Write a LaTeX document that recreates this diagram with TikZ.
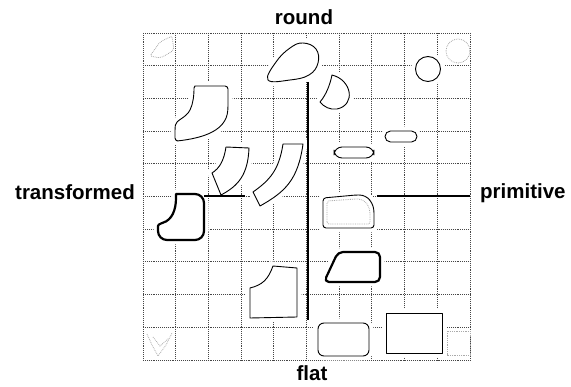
\documentclass[tikz,border=0pt]{standalone}
\usepackage{fontspec}
\setmainfont{Liberation Sans}
\definecolor{gridgray}{RGB}{70, 70, 70}
\definecolor{faintgray}{RGB}{170, 170, 170}
\usetikzlibrary{calc}

\begin{document}
\begin{tikzpicture}[x=1pt, y=-1pt,
  gridline/.style={draw=gridgray, densely dotted, line width=0.9pt},
  form/.style={draw, fill=white, line width=0.9pt, line join=round, preaction={draw=white, line width=9pt}},
  boldform/.style={form, line width=2.2pt},
  faint/.style={draw=faintgray, densely dotted, line width=0.8pt},
  axis/.style={draw, line width=1.4pt},
  lbl/.style={font=\fontsize{20.5}{24}\selectfont\bfseries, inner sep=0pt}
]
  \useasboundingbox (0,0) rectangle (571,387);

  \foreach \i in {0,...,10} {
    \draw[gridline] ({143+32.7*\i},33) -- ({143+32.7*\i},360);
    \draw[gridline] (143,{33+32.7*\i}) -- (470,{33+32.7*\i});
  }

  \draw[faint, rounded corners=2pt] (150,56) -- (160,42) -- (172,36) -- (174,50) -- (166,55) -- (160,58) -- cycle;
  \draw[faint] (458,51) circle (12);
  \draw[faint] (147,334) -- (152,345) -- (158,356) -- (166,345) -- (172,333) (153,337) -- (160,346) -- (168,339);
  \draw[faint] (447,331) rectangle (470,355);

  \draw[form] plot[smooth cycle, tension=0.7] coordinates {(268,80) (276,62) (290,48) (303,43) (316,49) (318,63) (309,75) (290,80)};
  \draw[form] (332,75) .. controls (352,80) and (356,105) .. (337,109) .. controls (330,110) and (324,107) .. (320,102) .. controls (326,95) and (330,85) .. cycle;
  \draw[form] (428,69) circle (12.5);

  \draw[form, rounded corners=3pt] (195,86) -- (228,86) -- (228,108) [sharp corners] .. controls (226,130) and (205,138) .. (177,141) [rounded corners=3pt] -- (175,141) -- (175,128) [sharp corners] .. controls (176,120) and (186,118) .. (190,110) .. controls (193,104) and (194,96) .. (194,88) -- cycle;

  \draw[form, rounded corners=8pt] (334,147) rectangle (374,158);
  \draw[form, rounded corners=5.5pt] (385,131) rectangle (417,142);

  \draw[form] (226,147) -- (249,148) .. controls (248,175) and (238,186) .. (221,195) -- (212,173) .. controls (220,168) and (224,160) .. cycle;
  \draw[form] (283,144) -- (303,144) .. controls (298,180) and (285,192) .. (260,206) -- (253,192) .. controls (270,180) and (279,170) .. cycle;

  \draw[boldform, rounded corners=9pt] (176,194) -- (204,194) -- (204,240) -- (158,240) [rounded corners=1pt] -- (158,225) -- (162,223) [sharp corners] .. controls (172,220) and (176,210) .. (176,198) -- cycle;

  \draw[form] (273,266) -- (297,268) -- (297,317) -- (250,318) -- (250,288) .. controls (262,285) and (268,280) .. cycle;

  \draw[form, rounded corners=3pt] (323,228) -- (323,198) -- (356,195) [sharp corners] .. controls (368,195) and (374,203) .. (374,213) [rounded corners=3pt] -- (374,228) -- cycle;
  \draw[faint, rounded corners=2pt] (327,224) -- (327,201) -- (356,199) [sharp corners] .. controls (365,199) and (370,206) .. (370,213) [rounded corners=2pt] -- (370,224) -- cycle;

  \draw[boldform, rounded corners=5pt] (338,252) -- (380,252) -- (380,282) -- (324,282) -- cycle;

  \draw[form, rounded corners=6pt] (318,323) -- (369,323) -- (369,356) -- (318,356) -- cycle;
  \draw[form] (386,313) rectangle (442,353);

  \coordinate (vtop) at (308,82);
  \coordinate (vbot) at (308,320);
  \coordinate (hlefta) at (204,196);
  \coordinate (hleftb) at (245,196);
  \coordinate (hrighta) at (377,196);
  \coordinate (hrightb) at (470,196);
  \draw[axis] (vtop) -- (vbot);
  \draw[axis] (hlefta) -- (hleftb);
  \draw[axis] (hrighta) -- (hrightb);

  \node[lbl, anchor=base] (round) at (304,25) {round};
  \node[lbl, anchor=base] (flat) at (312,381) {flat};
  \node[lbl, anchor=base east] (transformed) at (135,200) {transformed};
  \node[lbl, anchor=base west] (primitive) at (480,199) {primitive};
\end{tikzpicture}
\end{document}
